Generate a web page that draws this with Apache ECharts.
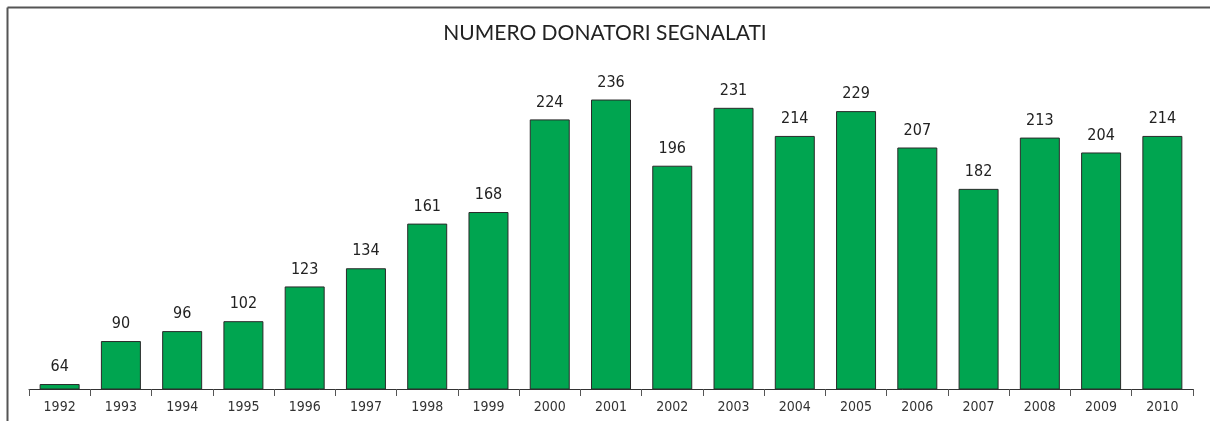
<!DOCTYPE html>
<html>
<head>
<meta charset="utf-8">
<script src="https://cdn.jsdelivr.net/npm/echarts@6/dist/echarts.min.js"></script>
<style>
html,body{margin:0;padding:0;background:#fff;}
#c{width:1210px;height:421px;}
</style>
</head>
<body>
<div id="c"></div>
<script>
const title = 'NUMERO DONATORI SEGNALATI';
const years = ['1992','1993','1994','1995','1996','1997','1998','1999','2000','2001','2002','2003','2004','2005','2006','2007','2008','2009','2010'];
const donors = [64,90,96,102,123,134,161,168,224,236,196,231,214,229,207,182,213,204,214];

const chart = echarts.init(document.getElementById('c'), null, {renderer:'canvas'});
const labelFont = '"Liberation Sans Narrow","DejaVu Sans Condensed","Noto Sans",sans-serif';
chart.setOption({
  animation:false,
  backgroundColor:'#fff',
  title:{
    text:title, left:'center', top:18,
    textStyle:{fontFamily:'Lato,"Noto Sans",sans-serif', fontWeight:'normal', fontSize:21, color:'#222'}
  },
  graphic:[
    {type:'line', shape:{x1:7.5,y1:7.5,x2:1210,y2:7.5}, style:{stroke:'#555', lineWidth:2}},
    {type:'line', shape:{x1:7.5,y1:7.5,x2:7.5,y2:421}, style:{stroke:'#555', lineWidth:2}}
  ],
  grid:{left:29, right:17, top:40, bottom:32, containLabel:false},
  xAxis:{
    type:'category', data:years,
    axisLine:{show:true, lineStyle:{color:'#333', width:1}},
    axisTick:{show:true, length:7, alignWithLabel:false, lineStyle:{color:'#555'}},
    axisLabel:{color:'#333', fontSize:14, fontFamily:labelFont, margin:11}
  },
  yAxis:{
    type:'value', min:61, max:272, show:false, splitLine:{show:false}
  },
  series:[{
    type:'bar', data:donors, barWidth:40,
    itemStyle:{color:'#00A550', borderColor:'#2a2a2a', borderWidth:1},
    label:{show:true, position:'top', distance:9, color:'#222', fontSize:16, fontFamily:labelFont}
  }]
});
</script>
</body>
</html>
